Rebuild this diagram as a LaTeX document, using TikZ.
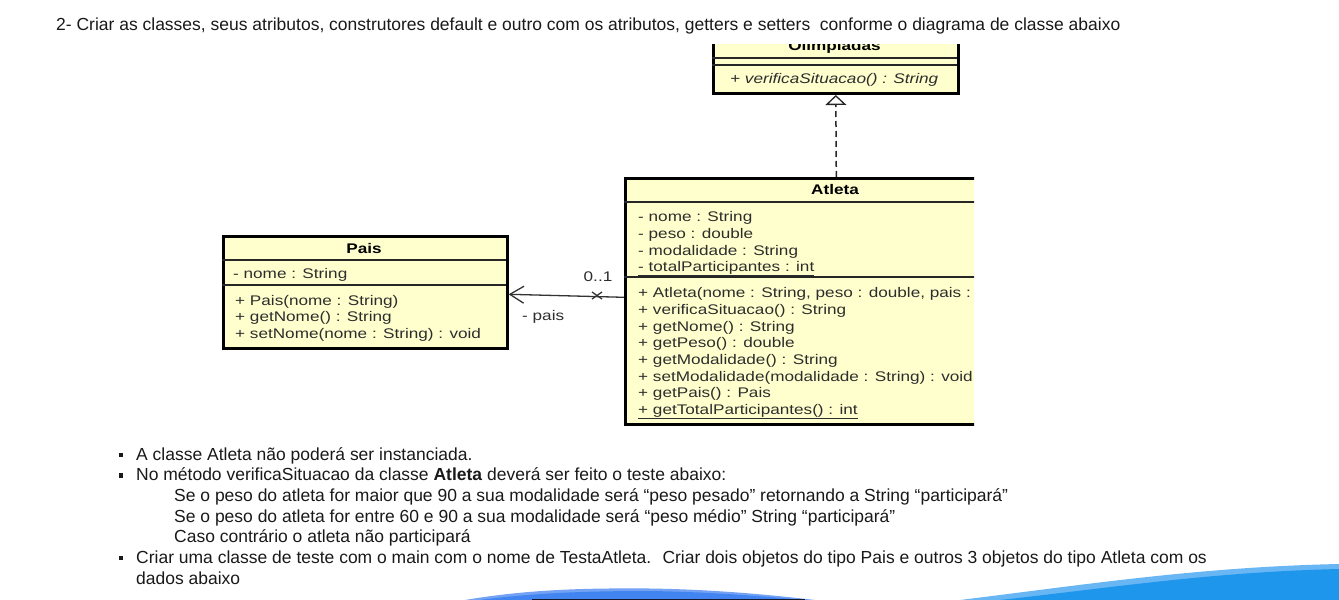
\documentclass[tikz,border=0pt]{standalone}
\usepackage{fontspec}
\setmainfont{Liberation Sans}
\newfontfamily\umlfont{Liberation Sans}[FakeStretch=1.23]
\usetikzlibrary{arrows.meta,calc}
\definecolor{umlfill}{RGB}{255,255,206}
\definecolor{umltext}{RGB}{45,45,45}
\definecolor{bodytext}{RGB}{25,25,25}
\definecolor{wave}{RGB}{30,150,235}
\definecolor{wavelight}{RGB}{105,182,245}
\definecolor{hump}{RGB}{66,132,240}
\definecolor{humplight}{RGB}{115,162,245}
\definecolor{navy}{RGB}{20,25,45}
\tikzset{
  umlbox/.style={draw=black, line width=2.6bp, fill=umlfill, inner sep=0pt},
  sep/.style={line width=1.3bp, draw=black!85},
  utext/.style={inner sep=0pt, anchor=base west, font=\umlfont\fontsize{14}{16}\selectfont, text=umltext},
  uhead/.style={inner sep=0pt, anchor=base, font=\umlfont\bfseries\fontsize{14}{16}\selectfont, text=black},
  body/.style={inner sep=0pt, anchor=base west, font=\fontsize{17.55}{20}\selectfont, text=bodytext},
  bulletsq/.style={fill=bodytext, minimum size=4.5bp, inner sep=0pt, draw=none},
  assoc/.style={line width=1.3bp, draw=black!80},
  realize/.style={line width=1.5bp, draw=black!85, dash pattern=on 6bp off 4bp}
}
\begin{document}
\begin{tikzpicture}[x=1bp,y=-1bp]
\useasboundingbox (0,0) rectangle (1339,600);

% title
\node[body] (title) at (56,31) {2- Criar as classes, seus atributos, construtores default e outro com os atributos, getters e setters~ conforme o diagrama de classe abaixo};

% Olimpiadas (top cut off)
\begin{scope}
\clip (690,45) rectangle (980,120);
\node[umlbox, minimum width=245bp, minimum height=75bp, anchor=south west] (olimp) at (712,95) {};
\node[uhead] (olimpname) at (834.5,51) {Olimpiadas};
\draw[sep] (712,58) -- (957,58);
\draw[sep] (712,65) -- (957,65);
\node[utext, font=\umlfont\itshape\fontsize{14}{16}\selectfont] (olimpm1) at (730,84) {+ verificaSituacao() : String};
\end{scope}

% Pais
\node[umlbox, minimum width=284bp, minimum height=112bp, anchor=north west] (pais) at (222,235) {};
\node[uhead] (paisname) at (364,253) {Pais};
\draw[sep] (222,260) -- (506,260);
\draw[sep] (222,285) -- (506,285);
\node[utext] (paisa1) at (233,278) {- nome : String};
\node[utext] (paism1) at (235,305) {+ Pais(nome : String)};
\node[utext] (paism2) at (235,321) {+ getNome() : String};
\node[utext] (paism3) at (235,338) {+ setNome(nome : String) : void};

% Atleta (right side cut off)
\begin{scope}
\clip (600,150) rectangle (974,440);
\node[umlbox, minimum width=422bp, minimum height=246bp, anchor=north west] (atleta) at (624,177) {};
\node[uhead] (atletaname) at (835,195) {Atleta};
\draw[sep] (624,202) -- (1046,202);
\draw[sep] (624,277) -- (1046,277);
\node[utext] (ata1) at (638,221) {- nome : String};
\node[utext] (ata2) at (638,238) {- peso : double};
\node[utext] (ata3) at (638,255) {- modalidade : String};
\node[utext] (ata4) at (638,271) {\underline{- totalParticipantes : int}};
\node[utext] (atm1) at (638,297) {+ Atleta(nome : String, peso : double, pais : Pais)};
\node[utext] (atm2) at (638,314) {+ verificaSituacao() : String};
\node[utext] (atm3) at (638,331) {+ getNome() : String};
\node[utext] (atm4) at (638,347) {+ getPeso() : double};
\node[utext] (atm5) at (638,364) {+ getModalidade() : String};
\node[utext] (atm6) at (638,381) {+ setModalidade(modalidade : String) : void};
\node[utext] (atm7) at (638,397) {+ getPais() : Pais};
\node[utext] (atm8) at (638,414) {\underline{+ getTotalParticipantes() : int}};
\end{scope}

% realization Atleta -> Olimpiadas
\draw[realize, -{Triangle[open, length=10bp, width=21bp, line width=1.3bp, fill=white, sep=0bp]}]
  (atleta.north) -- (olimp.south);

% association Atleta -> Pais
\draw[assoc, -{Straight Barb[length=14bp, width=17bp, line width=1.3bp]}]
  ($(atleta.west)+(0,-4)$) -- ($(pais.east)+(0,2)$);
\draw[assoc] (592,292) -- (602,299);
\draw[assoc] (592,299) -- (602,292);
\node[utext, anchor=base] (mult) at (598,281) {0..1};
\node[utext] (role) at (522,320) {- pais};

% bullet text
\node[bulletsq] (b1) at (121,455) {};
\node[body] (t1) at (136,460) {A classe Atleta não poderá ser instanciada.};
\node[bulletsq] (b2) at (121,475.5) {};
\node[body] (t2) at (136,480.5) {No método verificaSituacao da classe \textbf{Atleta} deverá ser feito o teste abaixo:};
\node[body] (t3) at (174,501) {Se o peso do atleta for maior que 90 a sua modalidade será “peso pesado” retornando a String “participará”};
\node[body] (t4) at (174,522) {Se o peso do atleta for entre 60 e 90 a sua modalidade será “peso médio” String “participará”};
\node[body] (t5) at (174,542.5) {Caso contrário o atleta não participará};
\node[bulletsq] (b3) at (121,558) {};
\node[body] (t6) at (136,563) {Criar uma classe de teste com o main com o nome de TestaAtleta.~ Criar dois objetos do tipo Pais e outros 3 objetos do tipo Atleta com os};
\node[body] (t7) at (136,584) {dados abaixo};

% decorative blue waves
\fill[wavelight] (960,600) .. controls (1090,584) and (1200,567) .. (1339,564) -- (1339,600) -- cycle;
\fill[wave] (1000,600) .. controls (1110,588) and (1210,572) .. (1339,569) -- (1339,600) -- cycle;
\fill[humplight] (465,600) .. controls (530,589) and (590,588) .. (650,588.5) .. controls (720,589.5) and (780,596) .. (815,600) -- cycle;
\fill[hump] (480,600) .. controls (540,592) and (600,591) .. (650,591) .. controls (715,592) and (770,597) .. (805,600) -- cycle;
\fill[navy] (532,598.5) rectangle (805,600);
\end{tikzpicture}
\end{document}
